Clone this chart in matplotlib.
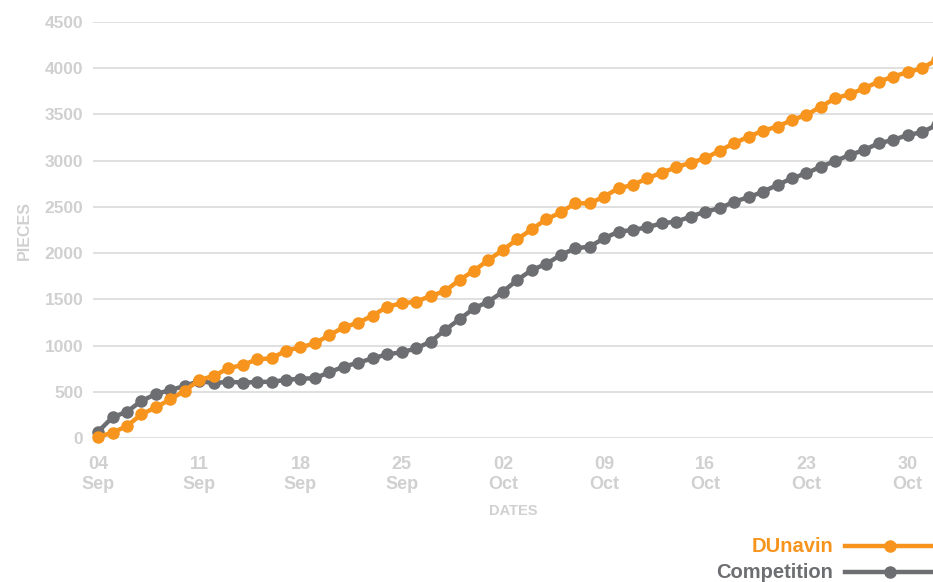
import matplotlib
matplotlib.use("Agg")
import matplotlib.pyplot as plt
import matplotlib.dates as mdates
from matplotlib.lines import Line2D
import pandas as pd

# daily values, 04 Sep .. 01 Nov
dates = pd.date_range("2017-09-04", periods=59, freq="D")
dunavin = [14, 57, 130, 256, 332, 418, 512, 628, 671, 754, 790, 851, 862, 945, 981, 1024, 1114,
           1197, 1248, 1324, 1421, 1457, 1475, 1536, 1590, 1710, 1810, 1926, 2034, 2150, 2258, 2366, 2440,
           2539, 2539, 2611, 2702, 2738, 2810, 2871, 2929, 2979, 3026, 3109, 3189, 3260, 3325, 3368,
           3441, 3495, 3585, 3676, 3719, 3784, 3855, 3910, 3957, 4000, 4090]
competition = [68, 224, 285, 400, 476, 519, 563, 617, 592, 609, 599, 606, 609, 628, 642, 646, 712,
               772, 815, 862, 905, 927, 970, 1042, 1169, 1284, 1403, 1475, 1583, 1710, 1818, 1883, 1980,
               2052, 2070, 2160, 2232, 2251, 2280, 2323, 2341, 2395, 2449, 2485, 2557, 2604, 2665, 2738,
               2810, 2864, 2936, 2997, 3062, 3116, 3189, 3224, 3278, 3307, 3387]
series_names = ["DUnavin", "Competition"]
series_colors = ["#F7941D", "#6D6E71"]
yticks = [0, 500, 1000, 1500, 2000, 2500, 3000, 3500, 4000, 4500]

plt.rcParams["font.family"] = ["Liberation Sans", "DejaVu Sans"]
plt.rcParams["font.weight"] = "bold"

W, H = 933, 582
fig = plt.figure(figsize=(W / 100, H / 100), dpi=100)
ax = fig.add_axes([93 / W, 1 - 438 / H, 1 - 93 / W, (438 - 22) / H])

label_grey = "#D0D0D0"
ax.plot(dates, competition, color=series_colors[1], lw=3.2, marker="o", ms=8,
        clip_on=False, zorder=3)
ax.plot(dates, dunavin, color=series_colors[0], lw=3.2, marker="o", ms=8,
        clip_on=False, zorder=4)

ax.set_ylim(0, 4500)
ax.set_yticks(yticks)
day = pd.Timedelta(days=1)
ax.set_xlim(dates[0] - 0.35 * day, dates[0] + 57.75 * day)
ax.set_xticks(pd.date_range("2017-09-04", "2017-10-30", freq="7D"))
ax.xaxis.set_major_formatter(mdates.DateFormatter("%d\n%b"))

ax.grid(axis="y", color="#DDDDDD", lw=1.3)
ax.set_axisbelow(True)
for s in ax.spines.values():
    s.set_visible(False)
ax.tick_params(length=0, colors=label_grey, labelsize=12.5)
ax.tick_params(axis="x", pad=13, labelsize=13)
ax.tick_params(axis="y", pad=7)
for t in ax.get_xticklabels():
    t.set_linespacing(1.25)

ax.set_ylabel("PIECES", color=label_grey, fontsize=11.5, fontweight="bold", labelpad=9)
ax.set_xlabel("DATES", color=label_grey, fontsize=10.5, fontweight="bold", labelpad=8)

# legend drawn by hand at the bottom right
for k, (name, col) in enumerate(zip(series_names, series_colors)):
    yf = 1 - (546 + 26 * k) / H
    fig.text(833 / W, yf, name, color=col, fontsize=14.5, fontweight="bold",
             ha="right", va="center")
    fig.add_artist(Line2D([845 / W, 945 / W], [yf, yf], color=col, lw=3.2,
                          transform=fig.transFigure))
    fig.add_artist(Line2D([890 / W], [yf], color=col, marker="o", ms=8,
                          transform=fig.transFigure))

fig.savefig("out.png", dpi=100)
